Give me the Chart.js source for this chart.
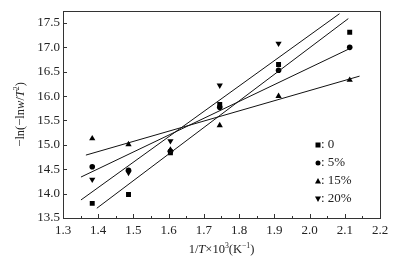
<!DOCTYPE html>
<html>
<head>
<meta charset="utf-8">
<script src="https://cdn.jsdelivr.net/npm/chart.js@4/dist/chart.umd.min.js"></script>
<style>
  html, body { margin: 0; padding: 0; background: #fff; }
  canvas { display: block; }
</style>
</head>
<body>
<canvas id="arrhenius" width="397" height="263"></canvas>
<script>
// 1/T x 10^3 for each measured temperature
var xVals = [1.383, 1.486, 1.605, 1.745, 1.912, 2.114];

// -ln(-lnw/T^2) per additive content
var s0  = [13.80, 13.98, 14.84, 15.83, 16.65, 17.31];
var s5  = [14.55, 14.48, 14.87, 15.77, 16.53, 17.00];
var s15 = [15.13, 15.01, 14.90, 15.40, 16.00, 16.33];
var s20 = [14.29, 14.43, 15.08, 16.22, 17.08, null];

// fitted lines, ends
var fit0  = { x: [1.396, 2.110], y: [13.70, 17.59] };
var fit5  = { x: [1.351, 2.114], y: [14.34, 16.975] };
var fit15 = { x: [1.365, 2.142], y: [14.79, 16.41] };
var fit20 = { x: [1.351, 2.085], y: [13.87, 17.69] };

var legendLabels = [': 0', ': 5%', ': 15%', ': 20%'];
var xTicks = [1.3, 1.4, 1.5, 1.6, 1.7, 1.8, 1.9, 2.0, 2.1, 2.2];
var yTicks = [13.5, 14.0, 14.5, 15.0, 15.5, 16.0, 16.5, 17.0, 17.5];

var FONT = '"Liberation Serif", "Times New Roman", serif';

function pts(ys) {
  var out = [];
  for (var i = 0; i < xVals.length; i++) {
    if (ys[i] !== null) out.push({ x: xVals[i], y: ys[i] });
  }
  return out;
}
function line(f) {
  return [{ x: f.x[0], y: f.y[0] }, { x: f.x[1], y: f.y[1] }];
}

var markers = [
  { style: 'rect', radius: 3.5, rot: 0 },
  { style: 'circle', radius: 2.8, rot: 0 },
  { style: 'triangle', radius: 3.6, rot: 0 },
  { style: 'triangle', radius: 3.6, rot: 180 }
];
var series = [s0, s5, s15, s20];
var fits = [fit0, fit5, fit15, fit20];

var datasets = [];
for (var k = 0; k < fits.length; k++) {
  datasets.push({
    type: 'line',
    data: line(fits[k]),
    borderColor: '#111',
    borderWidth: 1,
    pointRadius: 0,
    fill: false
  });
}
for (var j = 0; j < series.length; j++) {
  datasets.push({
    type: 'scatter',
    data: pts(series[j]),
    pointStyle: markers[j].style,
    pointRadius: markers[j].radius,
    rotation: markers[j].rot,
    backgroundColor: '#000',
    borderColor: '#000',
    borderWidth: 0
  });
}

// text with italic / superscript pieces
function richWidth(ctx, parts, size) {
  var w = 0;
  parts.forEach(function (p) {
    var s = p.sup ? size * 0.62 : size;
    ctx.font = (p.it ? 'italic ' : '') + s + 'px ' + FONT;
    w += ctx.measureText(p.t).width;
  });
  return w;
}
function drawRich(ctx, parts, cx, cy, size) {
  var w = richWidth(ctx, parts, size);
  var x = cx - w / 2;
  ctx.textBaseline = 'middle';
  ctx.textAlign = 'left';
  parts.forEach(function (p) {
    var s = p.sup ? size * 0.62 : size;
    ctx.font = (p.it ? 'italic ' : '') + s + 'px ' + FONT;
    ctx.fillText(p.t, x, p.sup ? cy - size * 0.33 : cy);
    x += ctx.measureText(p.t).width;
  });
}

var xTitle = [
  { t: '1/' }, { t: 'T', it: true }, { t: '×10' }, { t: '3', sup: true },
  { t: '(K' }, { t: '−1', sup: true }, { t: ')' }
];
var yTitle = [
  { t: '−ln(−ln' }, { t: 'w', it: true }, { t: '/' }, { t: 'T', it: true },
  { t: '2', sup: true }, { t: ')' }
];

var framePlugin = {
  id: 'frame',
  afterDraw: function (chart) {
    var ctx = chart.ctx, a = chart.chartArea;
    var xs = chart.scales.x, ys = chart.scales.y;
    ctx.save();
    ctx.strokeStyle = '#333';
    ctx.lineWidth = 1;
    ctx.strokeRect(Math.round(a.left) + 0.5, Math.round(a.top) + 0.5,
      Math.round(a.right - a.left), Math.round(a.bottom - a.top));

    ctx.beginPath();
    for (var i = 0; i < xTicks.length; i++) {
      var px = Math.round(xs.getPixelForValue(xTicks[i])) + 0.5;
      ctx.moveTo(px, a.bottom); ctx.lineTo(px, a.bottom - 4);
      if (i < xTicks.length - 1) {
        var mx = Math.round(xs.getPixelForValue((xTicks[i] + xTicks[i + 1]) / 2)) + 0.5;
        ctx.moveTo(mx, a.bottom); ctx.lineTo(mx, a.bottom - 2);
      }
    }
    for (var j = 0; j < yTicks.length; j++) {
      var py = Math.round(ys.getPixelForValue(yTicks[j])) + 0.5;
      ctx.moveTo(a.left, py); ctx.lineTo(a.left + 4, py);
    }
    ctx.stroke();

    // legend
    ctx.fillStyle = '#000';
    for (var k = 0; k < legendLabels.length; k++) {
      var ly = 145 + k * 18;
      var m = markers[k];
      var mx0 = 318;
      ctx.beginPath();
      if (m.style === 'rect') {
        ctx.rect(mx0 - 2.5, ly - 2.5, 5, 5);
      } else if (m.style === 'circle') {
        ctx.arc(mx0, ly, 2.5, 0, Math.PI * 2);
      } else if (m.rot === 0) {
        ctx.moveTo(mx0, ly - 3); ctx.lineTo(mx0 + 3, ly + 2.5); ctx.lineTo(mx0 - 3, ly + 2.5);
      } else {
        ctx.moveTo(mx0, ly + 3); ctx.lineTo(mx0 + 3, ly - 2.5); ctx.lineTo(mx0 - 3, ly - 2.5);
      }
      ctx.closePath();
      ctx.fill();
      ctx.fillStyle = '#222';
      ctx.font = '13px ' + FONT;
      ctx.textAlign = 'left';
      ctx.textBaseline = 'middle';
      ctx.fillText(legendLabels[k], 321, ly);
      ctx.fillStyle = '#000';
    }

    // axis titles
    ctx.fillStyle = '#222';
    drawRich(ctx, xTitle, (a.left + a.right) / 2, 250, 12.5);
    ctx.save();
    ctx.translate(21, (a.top + a.bottom) / 2);
    ctx.rotate(-Math.PI / 2);
    drawRich(ctx, yTitle, 0, 0, 12.5);
    ctx.restore();
    ctx.restore();
  }
};

new Chart(document.getElementById('arrhenius'), {
  type: 'scatter',
  data: { datasets: datasets },
  plugins: [framePlugin],
  options: {
    responsive: false,
    animation: false,
    layout: { padding: { top: 10, right: 17, left: 0, bottom: 0 } },
    plugins: {
      legend: { display: false },
      tooltip: { enabled: false }
    },
    scales: {
      x: {
        type: 'linear',
        min: 1.3,
        max: 2.2,
        afterBuildTicks: function (s) { s.ticks = xTicks.map(function (v) { return { value: v }; }); },
        afterFit: function (s) { s.height = 45; },
        grid: { display: false, drawTicks: false, tickLength: 0 },
        border: { display: false },
        ticks: {
          padding: 5,
          color: '#222',
          font: { family: FONT, size: 13 },
          maxRotation: 0,
          callback: function (v) { return Number(v).toFixed(1); }
        }
      },
      y: {
        type: 'linear',
        min: 13.5,
        max: 17.75,
        afterBuildTicks: function (s) { s.ticks = yTicks.map(function (v) { return { value: v }; }); },
        afterFit: function (s) { s.width = 63; },
        grid: { display: false, drawTicks: false, tickLength: 0 },
        border: { display: false },
        ticks: {
          padding: 3,
          color: '#222',
          font: { family: FONT, size: 13 },
          callback: function (v) { return Number(v).toFixed(1); }
        }
      }
    }
  }
});
</script>
</body>
</html>
